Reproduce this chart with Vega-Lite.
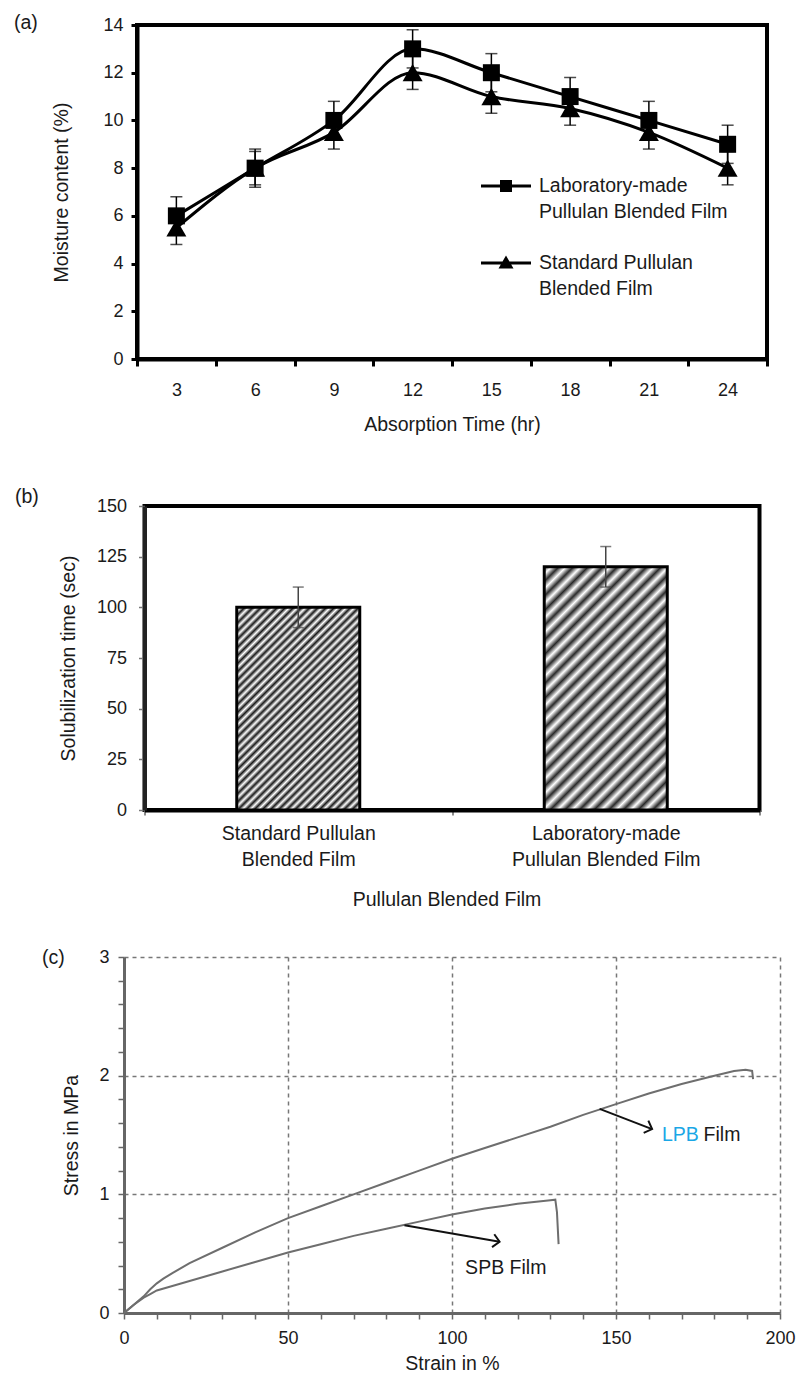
{
  "$schema": "https://vega.github.io/schema/vega-lite/v6.json",
  "padding": {"left": 12, "top": 10, "right": 0, "bottom": 0},
  "bounds": "flush",
  "center": true,
  "spacing": 147,
  "datasets": {
    "moist": [
      {"t": 3, "series": "Lab", "v": 6, "lo": 5.2, "hi": 6.8},
      {"t": 6, "series": "Lab", "v": 8, "lo": 7.2, "hi": 8.8},
      {"t": 9, "series": "Lab", "v": 10, "lo": 9.2, "hi": 10.8},
      {"t": 12, "series": "Lab", "v": 13, "lo": 12.2, "hi": 13.8},
      {"t": 15, "series": "Lab", "v": 12, "lo": 11.2, "hi": 12.8},
      {"t": 18, "series": "Lab", "v": 11, "lo": 10.2, "hi": 11.8},
      {"t": 21, "series": "Lab", "v": 10, "lo": 9.2, "hi": 10.8},
      {"t": 24, "series": "Lab", "v": 9, "lo": 8.2, "hi": 9.8},
      {"t": 3, "series": "Std", "v": 5.5, "lo": 4.8, "hi": 6.2},
      {"t": 6, "series": "Std", "v": 8, "lo": 7.3, "hi": 8.7},
      {"t": 9, "series": "Std", "v": 9.5, "lo": 8.8, "hi": 10.2},
      {"t": 12, "series": "Std", "v": 12, "lo": 11.3, "hi": 12.7},
      {"t": 15, "series": "Std", "v": 11, "lo": 10.3, "hi": 11.7},
      {"t": 18, "series": "Std", "v": 10.5, "lo": 9.8, "hi": 11.2},
      {"t": 21, "series": "Std", "v": 9.5, "lo": 8.8, "hi": 10.2},
      {"t": 24, "series": "Std", "v": 8, "lo": 7.3, "hi": 8.7}
    ],
    "solub": [
      {"film": "Standard Pullulan Blended Film", "v": 100, "lo": 90, "hi": 110},
      {"film": "Laboratory-made Pullulan Blended Film", "v": 120, "lo": 110, "hi": 130}
    ],
    "stress": [
      {"film": "LPB", "strain": 0, "stress": 0},
      {"film": "LPB", "strain": 3, "stress": 0.07},
      {"film": "LPB", "strain": 6, "stress": 0.14},
      {"film": "LPB", "strain": 8, "stress": 0.2},
      {"film": "LPB", "strain": 10, "stress": 0.25},
      {"film": "LPB", "strain": 12, "stress": 0.29},
      {"film": "LPB", "strain": 15, "stress": 0.34},
      {"film": "LPB", "strain": 20, "stress": 0.42},
      {"film": "LPB", "strain": 30, "stress": 0.55},
      {"film": "LPB", "strain": 40, "stress": 0.68},
      {"film": "LPB", "strain": 50, "stress": 0.8},
      {"film": "LPB", "strain": 60, "stress": 0.9},
      {"film": "LPB", "strain": 70, "stress": 1.0},
      {"film": "LPB", "strain": 80, "stress": 1.1},
      {"film": "LPB", "strain": 90, "stress": 1.2},
      {"film": "LPB", "strain": 100, "stress": 1.3},
      {"film": "LPB", "strain": 110, "stress": 1.39},
      {"film": "LPB", "strain": 120, "stress": 1.48},
      {"film": "LPB", "strain": 130, "stress": 1.57},
      {"film": "LPB", "strain": 140, "stress": 1.67},
      {"film": "LPB", "strain": 150, "stress": 1.76},
      {"film": "LPB", "strain": 160, "stress": 1.85},
      {"film": "LPB", "strain": 170, "stress": 1.93},
      {"film": "LPB", "strain": 180, "stress": 2.0},
      {"film": "LPB", "strain": 186, "stress": 2.04},
      {"film": "LPB", "strain": 189.5, "stress": 2.05},
      {"film": "LPB", "strain": 191.5, "stress": 2.04},
      {"film": "LPB", "strain": 191.8, "stress": 1.97},
      {"film": "SPB", "strain": 0, "stress": 0},
      {"film": "SPB", "strain": 3, "stress": 0.07},
      {"film": "SPB", "strain": 6, "stress": 0.13},
      {"film": "SPB", "strain": 8, "stress": 0.16},
      {"film": "SPB", "strain": 10, "stress": 0.19},
      {"film": "SPB", "strain": 15, "stress": 0.23},
      {"film": "SPB", "strain": 20, "stress": 0.27},
      {"film": "SPB", "strain": 30, "stress": 0.35},
      {"film": "SPB", "strain": 40, "stress": 0.43},
      {"film": "SPB", "strain": 50, "stress": 0.51},
      {"film": "SPB", "strain": 60, "stress": 0.58},
      {"film": "SPB", "strain": 70, "stress": 0.65},
      {"film": "SPB", "strain": 80, "stress": 0.71},
      {"film": "SPB", "strain": 90, "stress": 0.77},
      {"film": "SPB", "strain": 100, "stress": 0.83},
      {"film": "SPB", "strain": 110, "stress": 0.88},
      {"film": "SPB", "strain": 120, "stress": 0.92},
      {"film": "SPB", "strain": 130, "stress": 0.95},
      {"film": "SPB", "strain": 131.5, "stress": 0.955},
      {"film": "SPB", "strain": 132, "stress": 0.85},
      {"film": "SPB", "strain": 132.5, "stress": 0.58}
    ],
    "arrows": [
      {"film": "LPB", "part": "tail", "strain": 145, "stress": 1.72},
      {"film": "LPB", "part": "head", "strain": 161, "stress": 1.55},
      {"film": "SPB", "part": "tail", "strain": 85.5, "stress": 0.74},
      {"film": "SPB", "part": "head", "strain": 114.5, "stress": 0.6}
    ],
    "notes": [
      {"text": "LPB", "strain": 164, "stress": 1.5},
      {"text": "Film", "strain": 176.7, "stress": 1.5},
      {"text": "SPB Film", "strain": 104, "stress": 0.38}
    ]
  },
  "vconcat": [
    {
      "width": 630,
      "height": 334,
      "title": {"text": "(a)", "anchor": "start", "frame": "group", "orient": "top", "offset": 0, "dx": -123, "dy": 17},
      "view": {"stroke": "black", "strokeWidth": 4},
      "data": {"name": "moist"},
      "encoding": {
        "x": {
          "field": "t", "type": "ordinal", "title": "Absorption Time (hr)",
          "scale": {"type": "band", "domain": [3, 6, 9, 12, 15, 18, 21, 24], "paddingInner": 0, "paddingOuter": 0},
          "axis": {"labelAngle": 0, "tickBand": "extent", "tickSize": 7, "tickWidth": 3, "tickColor": "black", "domainColor": "black", "domainWidth": 4, "labelPadding": 15, "titlePadding": 16}
        }
      },
      "layer": [
        {
          "mark": {"type": "line", "interpolate": "monotone", "color": "black", "strokeWidth": 3},
          "encoding": {
            "y": {
              "field": "v", "type": "quantitative", "title": "Moisture content (%)",
              "scale": {"domain": [0, 14], "nice": false},
              "axis": {"values": [0, 2, 4, 6, 8, 10, 12, 14], "tickSize": 6, "tickWidth": 3, "tickColor": "black", "domainColor": "black", "domainWidth": 4, "labelPadding": 8, "titlePadding": 31}
            },
            "detail": {"field": "series"}
          }
        },
        {
          "mark": {"type": "rule", "color": "black", "strokeWidth": 1.5},
          "encoding": {
            "y": {"field": "lo", "type": "quantitative", "title": "Moisture content (%)", "scale": {"domain": [0, 14], "nice": false}},
            "y2": {"field": "hi"}
          }
        },
        {
          "mark": {"type": "tick", "color": "black", "size": 12, "thickness": 1.5},
          "encoding": {"y": {"field": "lo", "type": "quantitative", "title": "Moisture content (%)", "scale": {"domain": [0, 14], "nice": false}}}
        },
        {
          "mark": {"type": "tick", "color": "black", "size": 12, "thickness": 1.5},
          "encoding": {"y": {"field": "hi", "type": "quantitative", "title": "Moisture content (%)", "scale": {"domain": [0, 14], "nice": false}}}
        },
        {
          "transform": [{"filter": "datum.series === 'Lab'"}],
          "mark": {"type": "point", "shape": "square", "filled": true, "color": "black", "size": 289, "opacity": 1},
          "encoding": {"y": {"field": "v", "type": "quantitative", "title": "Moisture content (%)", "scale": {"domain": [0, 14], "nice": false}}}
        },
        {
          "transform": [{"filter": "datum.series === 'Std'"}],
          "mark": {"type": "point", "shape": "triangle-up", "filled": true, "color": "black", "size": 400, "opacity": 1},
          "encoding": {"y": {"field": "v", "type": "quantitative", "title": "Moisture content (%)", "scale": {"domain": [0, 14], "nice": false}}}
        },
        {
          "transform": [{"filter": "false"}],
          "mark": {"type": "point", "filled": true, "color": "black", "size": 2500, "opacity": 1},
          "encoding": {
            "shape": {
              "field": "series", "type": "nominal",
              "scale": {"domain": ["Lab", "Std"], "range": ["M-1,-0.06H1V0.06H-1ZM-0.24,-0.24H0.24V0.24H-0.24Z", "M-1,-0.06H1V0.06H-1ZM-0.3,0.22L0,-0.3L0.3,0.22Z"]},
              "legend": {
                "orient": "none", "legendX": 357, "legendY": 136, "title": null,
                "symbolSize": 2500, "symbolFillColor": "black", "symbolStrokeWidth": 0,
                "labelFontSize": 19.5, "labelOffset": 8, "labelLimit": 400, "rowPadding": 16, "labelBaseline": "middle",
                "labelExpr": "datum.value === 'Lab' ? ['Laboratory-made', 'Pullulan Blended Film'] : ['Standard Pullulan', 'Blended Film']"
              }
            }
          }
        }
      ]
    },
    {
      "width": 615,
      "height": 304,
      "title": {"text": "(b)", "anchor": "start", "frame": "group", "orient": "top", "offset": 0, "dx": -129.5, "dy": 10},
      "view": {"stroke": "black", "strokeWidth": 4},
      "data": {"name": "solub"},
      "encoding": {
        "x": {
          "field": "film", "type": "nominal", "title": "Pullulan Blended Film",
          "scale": {"domain": ["Standard Pullulan Blended Film", "Laboratory-made Pullulan Blended Film"], "paddingInner": 0, "paddingOuter": 0},
          "axis": {
            "labelAngle": 0, "tickBand": "extent", "tickSize": 5, "tickWidth": 1.5, "tickColor": "#666",
            "domainColor": "black", "domainWidth": 4, "labelFontSize": 19.5, "labelLineHeight": 26,
            "labelPadding": 9, "titlePadding": 22, "titleX": 302,
            "labelExpr": "datum.value === 'Standard Pullulan Blended Film' ? ['Standard Pullulan', 'Blended Film'] : datum.value === 'Laboratory-made Pullulan Blended Film' ? ['Laboratory-made', 'Pullulan Blended Film'] : ''"
          }
        }
      },
      "layer": [
        {
          "transform": [{"filter": "datum.film === 'Standard Pullulan Blended Film'"}],
          "mark": {
            "type": "bar", "width": {"band": 0.4}, "stroke": "black", "strokeWidth": 3,
            "fill": {
              "gradient": "linear", "x1": 0, "y1": 0, "x2": 0.712, "y2": 1.175,
              "stops": [
                {"offset": 0, "color": "#1a1a1a"}, {"offset": 0.0125, "color": "#ffffff"},
                {"offset": 0.025, "color": "#1a1a1a"}, {"offset": 0.0375, "color": "#ffffff"},
                {"offset": 0.05, "color": "#1a1a1a"}, {"offset": 0.0625, "color": "#ffffff"},
                {"offset": 0.075, "color": "#1a1a1a"}, {"offset": 0.0875, "color": "#ffffff"},
                {"offset": 0.1, "color": "#1a1a1a"}, {"offset": 0.1125, "color": "#ffffff"},
                {"offset": 0.125, "color": "#1a1a1a"}, {"offset": 0.1375, "color": "#ffffff"},
                {"offset": 0.15, "color": "#1a1a1a"}, {"offset": 0.1625, "color": "#ffffff"},
                {"offset": 0.175, "color": "#1a1a1a"}, {"offset": 0.1875, "color": "#ffffff"},
                {"offset": 0.2, "color": "#1a1a1a"}, {"offset": 0.2125, "color": "#ffffff"},
                {"offset": 0.225, "color": "#1a1a1a"}, {"offset": 0.2375, "color": "#ffffff"},
                {"offset": 0.25, "color": "#1a1a1a"}, {"offset": 0.2625, "color": "#ffffff"},
                {"offset": 0.275, "color": "#1a1a1a"}, {"offset": 0.2875, "color": "#ffffff"},
                {"offset": 0.3, "color": "#1a1a1a"}, {"offset": 0.3125, "color": "#ffffff"},
                {"offset": 0.325, "color": "#1a1a1a"}, {"offset": 0.3375, "color": "#ffffff"},
                {"offset": 0.35, "color": "#1a1a1a"}, {"offset": 0.3625, "color": "#ffffff"},
                {"offset": 0.375, "color": "#1a1a1a"}, {"offset": 0.3875, "color": "#ffffff"},
                {"offset": 0.4, "color": "#1a1a1a"}, {"offset": 0.4125, "color": "#ffffff"},
                {"offset": 0.425, "color": "#1a1a1a"}, {"offset": 0.4375, "color": "#ffffff"},
                {"offset": 0.45, "color": "#1a1a1a"}, {"offset": 0.4625, "color": "#ffffff"},
                {"offset": 0.475, "color": "#1a1a1a"}, {"offset": 0.4875, "color": "#ffffff"},
                {"offset": 0.5, "color": "#1a1a1a"}, {"offset": 0.5125, "color": "#ffffff"},
                {"offset": 0.525, "color": "#1a1a1a"}, {"offset": 0.5375, "color": "#ffffff"},
                {"offset": 0.55, "color": "#1a1a1a"}, {"offset": 0.5625, "color": "#ffffff"},
                {"offset": 0.575, "color": "#1a1a1a"}, {"offset": 0.5875, "color": "#ffffff"},
                {"offset": 0.6, "color": "#1a1a1a"}, {"offset": 0.6125, "color": "#ffffff"},
                {"offset": 0.625, "color": "#1a1a1a"}, {"offset": 0.6375, "color": "#ffffff"},
                {"offset": 0.65, "color": "#1a1a1a"}, {"offset": 0.6625, "color": "#ffffff"},
                {"offset": 0.675, "color": "#1a1a1a"}, {"offset": 0.6875, "color": "#ffffff"},
                {"offset": 0.7, "color": "#1a1a1a"}, {"offset": 0.7125, "color": "#ffffff"},
                {"offset": 0.725, "color": "#1a1a1a"}, {"offset": 0.7375, "color": "#ffffff"},
                {"offset": 0.75, "color": "#1a1a1a"}, {"offset": 0.7625, "color": "#ffffff"},
                {"offset": 0.775, "color": "#1a1a1a"}, {"offset": 0.7875, "color": "#ffffff"},
                {"offset": 0.8, "color": "#1a1a1a"}, {"offset": 0.8125, "color": "#ffffff"},
                {"offset": 0.825, "color": "#1a1a1a"}, {"offset": 0.8375, "color": "#ffffff"},
                {"offset": 0.85, "color": "#1a1a1a"}, {"offset": 0.8625, "color": "#ffffff"},
                {"offset": 0.875, "color": "#1a1a1a"}, {"offset": 0.8875, "color": "#ffffff"},
                {"offset": 0.9, "color": "#1a1a1a"}, {"offset": 0.9125, "color": "#ffffff"},
                {"offset": 0.925, "color": "#1a1a1a"}, {"offset": 0.9375, "color": "#ffffff"},
                {"offset": 0.95, "color": "#1a1a1a"}, {"offset": 0.9625, "color": "#ffffff"},
                {"offset": 0.975, "color": "#1a1a1a"}, {"offset": 0.9875, "color": "#ffffff"},
                {"offset": 1, "color": "#1a1a1a"}
              ]
            }
          },
          "encoding": {
            "y": {
              "field": "v", "type": "quantitative", "title": "Solubilization time (sec)",
              "scale": {"domain": [0, 150], "nice": false},
              "axis": {"values": [0, 25, 50, 75, 100, 125, 150], "tickSize": 6, "tickWidth": 1.5, "tickColor": "#777", "domainColor": "#222", "domainWidth": 4, "labelPadding": 12, "titlePadding": 18}
            }
          }
        },
        {
          "transform": [{"filter": "datum.film === 'Laboratory-made Pullulan Blended Film'"}],
          "mark": {
            "type": "bar", "width": {"band": 0.4}, "stroke": "black", "strokeWidth": 3,
            "fill": {
              "gradient": "linear", "x1": 0, "y1": 0, "x2": 0.607, "y2": 1.199,
              "stops": [
                {"offset": 0, "color": "#2a2a2a"}, {"offset": 0.02, "color": "#ffffff"},
                {"offset": 0.04, "color": "#2a2a2a"}, {"offset": 0.06, "color": "#ffffff"},
                {"offset": 0.08, "color": "#2a2a2a"}, {"offset": 0.1, "color": "#ffffff"},
                {"offset": 0.12, "color": "#2a2a2a"}, {"offset": 0.14, "color": "#ffffff"},
                {"offset": 0.16, "color": "#2a2a2a"}, {"offset": 0.18, "color": "#ffffff"},
                {"offset": 0.2, "color": "#2a2a2a"}, {"offset": 0.22, "color": "#ffffff"},
                {"offset": 0.24, "color": "#2a2a2a"}, {"offset": 0.26, "color": "#ffffff"},
                {"offset": 0.28, "color": "#2a2a2a"}, {"offset": 0.3, "color": "#ffffff"},
                {"offset": 0.32, "color": "#2a2a2a"}, {"offset": 0.34, "color": "#ffffff"},
                {"offset": 0.36, "color": "#2a2a2a"}, {"offset": 0.38, "color": "#ffffff"},
                {"offset": 0.4, "color": "#2a2a2a"}, {"offset": 0.42, "color": "#ffffff"},
                {"offset": 0.44, "color": "#2a2a2a"}, {"offset": 0.46, "color": "#ffffff"},
                {"offset": 0.48, "color": "#2a2a2a"}, {"offset": 0.5, "color": "#ffffff"},
                {"offset": 0.52, "color": "#2a2a2a"}, {"offset": 0.54, "color": "#ffffff"},
                {"offset": 0.56, "color": "#2a2a2a"}, {"offset": 0.58, "color": "#ffffff"},
                {"offset": 0.6, "color": "#2a2a2a"}, {"offset": 0.62, "color": "#ffffff"},
                {"offset": 0.64, "color": "#2a2a2a"}, {"offset": 0.66, "color": "#ffffff"},
                {"offset": 0.68, "color": "#2a2a2a"}, {"offset": 0.7, "color": "#ffffff"},
                {"offset": 0.72, "color": "#2a2a2a"}, {"offset": 0.74, "color": "#ffffff"},
                {"offset": 0.76, "color": "#2a2a2a"}, {"offset": 0.78, "color": "#ffffff"},
                {"offset": 0.8, "color": "#2a2a2a"}, {"offset": 0.82, "color": "#ffffff"},
                {"offset": 0.84, "color": "#2a2a2a"}, {"offset": 0.86, "color": "#ffffff"},
                {"offset": 0.88, "color": "#2a2a2a"}, {"offset": 0.9, "color": "#ffffff"},
                {"offset": 0.92, "color": "#2a2a2a"}, {"offset": 0.94, "color": "#ffffff"},
                {"offset": 0.96, "color": "#2a2a2a"}, {"offset": 0.98, "color": "#ffffff"},
                {"offset": 1, "color": "#2a2a2a"}
              ]
            }
          },
          "encoding": {"y": {"field": "v", "type": "quantitative", "title": "Solubilization time (sec)", "scale": {"domain": [0, 150], "nice": false}}}
        },
        {
          "mark": {"type": "rule", "color": "#444", "strokeWidth": 1.5},
          "encoding": {
            "y": {"field": "lo", "type": "quantitative", "title": "Solubilization time (sec)", "scale": {"domain": [0, 150], "nice": false}},
            "y2": {"field": "hi"}
          }
        },
        {
          "mark": {"type": "tick", "color": "#444", "size": 11, "thickness": 1.5},
          "encoding": {"y": {"field": "lo", "type": "quantitative", "title": "Solubilization time (sec)", "scale": {"domain": [0, 150], "nice": false}}}
        },
        {
          "mark": {"type": "tick", "color": "#444", "size": 11, "thickness": 1.5},
          "encoding": {"y": {"field": "hi", "type": "quantitative", "title": "Solubilization time (sec)", "scale": {"domain": [0, 150], "nice": false}}}
        }
      ]
    },
    {
      "width": 656,
      "height": 356,
      "title": {"text": "(c)", "anchor": "start", "frame": "group", "orient": "top", "offset": 0, "dx": -82, "dy": 20},
      "encoding": {
        "x": {
          "field": "strain", "type": "quantitative", "title": "Strain in %",
          "scale": {"domain": [0, 200], "nice": false},
          "axis": {
            "values": [0, 10, 20, 30, 40, 50, 60, 70, 80, 90, 100, 110, 120, 130, 140, 150, 160, 170, 180, 190, 200],
            "labelExpr": "datum.value % 50 === 0 ? datum.label : ''",
            "labelFlush": false, "labelOverlap": false,
            "grid": true, "gridColor": "#777", "gridDash": [4, 4], "gridWidth": 1.5,
            "gridOpacity": {"condition": {"test": "datum.value % 50 === 0 && datum.value > 0", "value": 1}, "value": 0},
            "domainColor": "#666", "domainWidth": 3, "tickColor": "#666", "tickWidth": 1.5, "tickSize": 6,
            "labelPadding": 10, "titlePadding": 7
          }
        },
        "y": {
          "field": "stress", "type": "quantitative", "title": "Stress in MPa",
          "scale": {"domain": [0, 3], "nice": false},
          "axis": {
            "values": [0, 0.2, 0.4, 0.6, 0.8, 1, 1.2, 1.4, 1.6, 1.8, 2, 2.2, 2.4, 2.6, 2.8, 3],
            "labelExpr": "datum.value % 1 === 0 ? format(datum.value, 'd') : ''",
            "labelFlush": false, "labelOverlap": false,
            "grid": true, "gridColor": "#777", "gridDash": [4, 4], "gridWidth": 1.5,
            "gridOpacity": {"condition": {"test": "datum.value % 1 === 0 && datum.value > 0", "value": 1}, "value": 0},
            "domainColor": "#666", "domainWidth": 3, "tickColor": "#666", "tickWidth": 1.5, "tickSize": 6,
            "labelPadding": 9, "titlePadding": 17
          }
        }
      },
      "layer": [
        {
          "data": {"name": "stress"},
          "mark": {"type": "line", "color": "#6e6e6e", "strokeWidth": 2},
          "encoding": {"detail": {"field": "film"}}
        },
        {
          "data": {"name": "arrows"},
          "mark": {"type": "line", "color": "#111", "strokeWidth": 2},
          "encoding": {"detail": {"field": "film"}}
        },
        {
          "data": {"name": "arrows"},
          "transform": [{"filter": "datum.part === 'head' && datum.film === 'LPB'"}],
          "mark": {"type": "point", "shape": "M-1,-1L0,0L-1,1", "filled": false, "stroke": "#111", "strokeWidth": 2, "size": 169, "angle": 21, "opacity": 1},
          "encoding": {}
        },
        {
          "data": {"name": "arrows"},
          "transform": [{"filter": "datum.part === 'head' && datum.film === 'SPB'"}],
          "mark": {"type": "point", "shape": "M-1,-1L0,0L-1,1", "filled": false, "stroke": "#111", "strokeWidth": 2, "size": 169, "angle": 10, "opacity": 1},
          "encoding": {}
        },
        {
          "data": {"name": "notes"},
          "mark": {"type": "text", "align": "left", "baseline": "middle", "fontSize": 19.5},
          "encoding": {
            "text": {"field": "text"},
            "color": {"condition": {"test": "datum.text === 'LPB'", "value": "#1aa7e6"}, "value": "#1a1a1a"}
          }
        }
      ]
    }
  ],
  "config": {
    "font": "Liberation Sans",
    "view": {"stroke": null},
    "axis": {"labelColor": "#1a1a1a", "titleColor": "#1a1a1a", "titleFontWeight": "normal", "titleFontSize": 19.5, "labelFontSize": 18, "grid": false, "labelLimit": 400},
    "title": {"fontWeight": "normal", "fontSize": 19.5, "color": "#1a1a1a"},
    "legend": {"labelColor": "#1a1a1a", "labelFontSize": 19.5, "labelLimit": 400, "padding": 0},
    "style": {"guide-label": {"lineHeight": 26}}
  }
}
